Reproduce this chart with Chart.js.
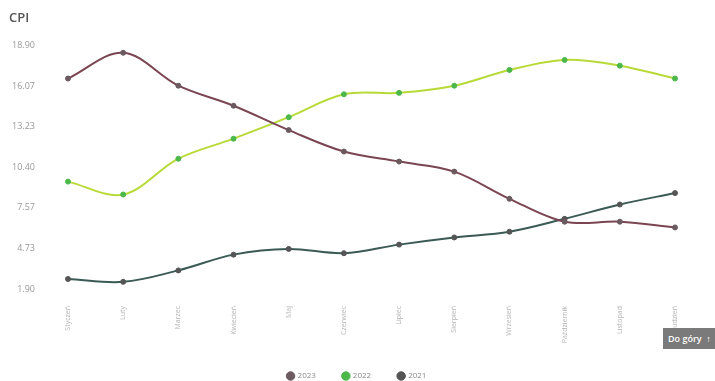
<!DOCTYPE html>
<html>
<head>
<meta charset="utf-8">
<script src="https://cdn.jsdelivr.net/npm/chart.js@4"></script>
<style>
  html, body { margin: 0; padding: 0; background: #fff; }
  #wrap { position: relative; width: 715px; height: 381px; }
  #upBtn {
    position: absolute; left: 663px; top: 328px; width: 60px; height: 21px;
    background: #7a7a7a; color: #fff; font: 600 9px "Open Sans", sans-serif;
    line-height: 21px; padding-left: 5px; box-sizing: border-box;
  }
</style>
</head>
<body>
<div id="wrap">
  <canvas id="cpiChart" width="715" height="381"></canvas>
  <div id="upBtn">Do góry &nbsp;↑</div>
</div>
<script>
// Data
const months = ["Styczeń", "Luty", "Marzec", "Kwiecień", "Maj", "Czerwiec",
    "Lipiec", "Sierpień", "Wrzesień", "Październik", "Listopad", "Grudzień"];
const cpi2023 = [16.6, 18.4, 16.1, 14.7, 13.0, 11.5, 10.8, 10.1, 8.2, 6.6, 6.6, 6.2];
const cpi2022 = [9.4, 8.5, 11.0, 12.4, 13.9, 15.5, 15.6, 16.1, 17.2, 17.9, 17.5, 16.6];
const cpi2021 = [2.6, 2.4, 3.2, 4.3, 4.7, 4.4, 5.0, 5.5, 5.9, 6.8, 7.8, 8.6];
const yTickLabels = ["1.90", "4.73", "7.57", "10.40", "13.23", "16.07", "18.90"];

const ctx = document.getElementById("cpiChart").getContext("2d");

const cpiChart = new Chart(ctx, {
    type: "line",
    data: {
        labels: months,
        datasets: [
            {
                label: "2023",
                data: cpi2023,
                borderColor: "#7a4651",
                backgroundColor: "#a05c6c",
                pointBackgroundColor: "#6b5a60",
                pointBorderColor: "#6b5a60",
            },
            {
                label: "2022",
                data: cpi2022,
                borderColor: "#b8da38",
                backgroundColor: "#55cc44",
                pointBackgroundColor: "#4cb84a",
                pointBorderColor: "#4cb84a",
            },
            {
                label: "2021",
                data: cpi2021,
                borderColor: "#3b5a55",
                backgroundColor: "#555",
                pointBackgroundColor: "#555",
                pointBorderColor: "#555",
            },
        ],
    },
    options: {
        responsive: false,
        animation: false,
        elements: {
            line: { borderWidth: 2, tension: 0.35 },
            point: { radius: 2.5, borderWidth: 1 },
        },
        layout: { padding: { left: 9, right: 10, top: 0, bottom: -9 } },
        scales: {
            x: {
                grid: { display: false },
                border: { display: false },
                ticks: {
                    color: "#b5b5b5",
                    font: { family: "Open Sans", size: 7 },
                    minRotation: 90,
                    maxRotation: 90,
                    padding: 9,
                },
                afterFit(scale) { scale.height = 56; },
            },
            y: {
                min: 1.9,
                max: 18.9,
                grid: { display: false, drawTicks: false },
                border: { display: false },
                ticks: {
                    color: "#999",
                    font: { family: "Open Sans", size: 9 },
                    padding: 33,
                    callback: (v) => v.toFixed(2),
                },
                afterBuildTicks(scale) {
                    scale.ticks = yTickLabels.map(t => ({ value: parseFloat(t) }));
                },
                afterFit(scale) { scale.width = 59; },
            },
            // empty right-hand gutter so the plot ends where the original does
            gutter: {
                position: "right",
                grid: { display: false, drawTicks: false },
                border: { display: false },
                ticks: { display: false },
                afterFit(scale) { scale.width = 30; },
            },
        },
        plugins: {
            title: {
                display: true,
                text: "CPI",
                align: "start",
                color: "#555",
                font: { family: "Open Sans", size: 13, weight: "600" },
                padding: { top: 10, bottom: 20 },
            },
            legend: {
                position: "bottom",
                labels: {
                    usePointStyle: true,
                    pointStyle: "circle",
                    boxWidth: 6,
                    boxHeight: 6,
                    color: "#888",
                    padding: 27,
                    font: { family: "Open Sans", size: 8 },
                },
            },
            tooltip: { enabled: false },
        },
    },
});
</script>
</body>
</html>
